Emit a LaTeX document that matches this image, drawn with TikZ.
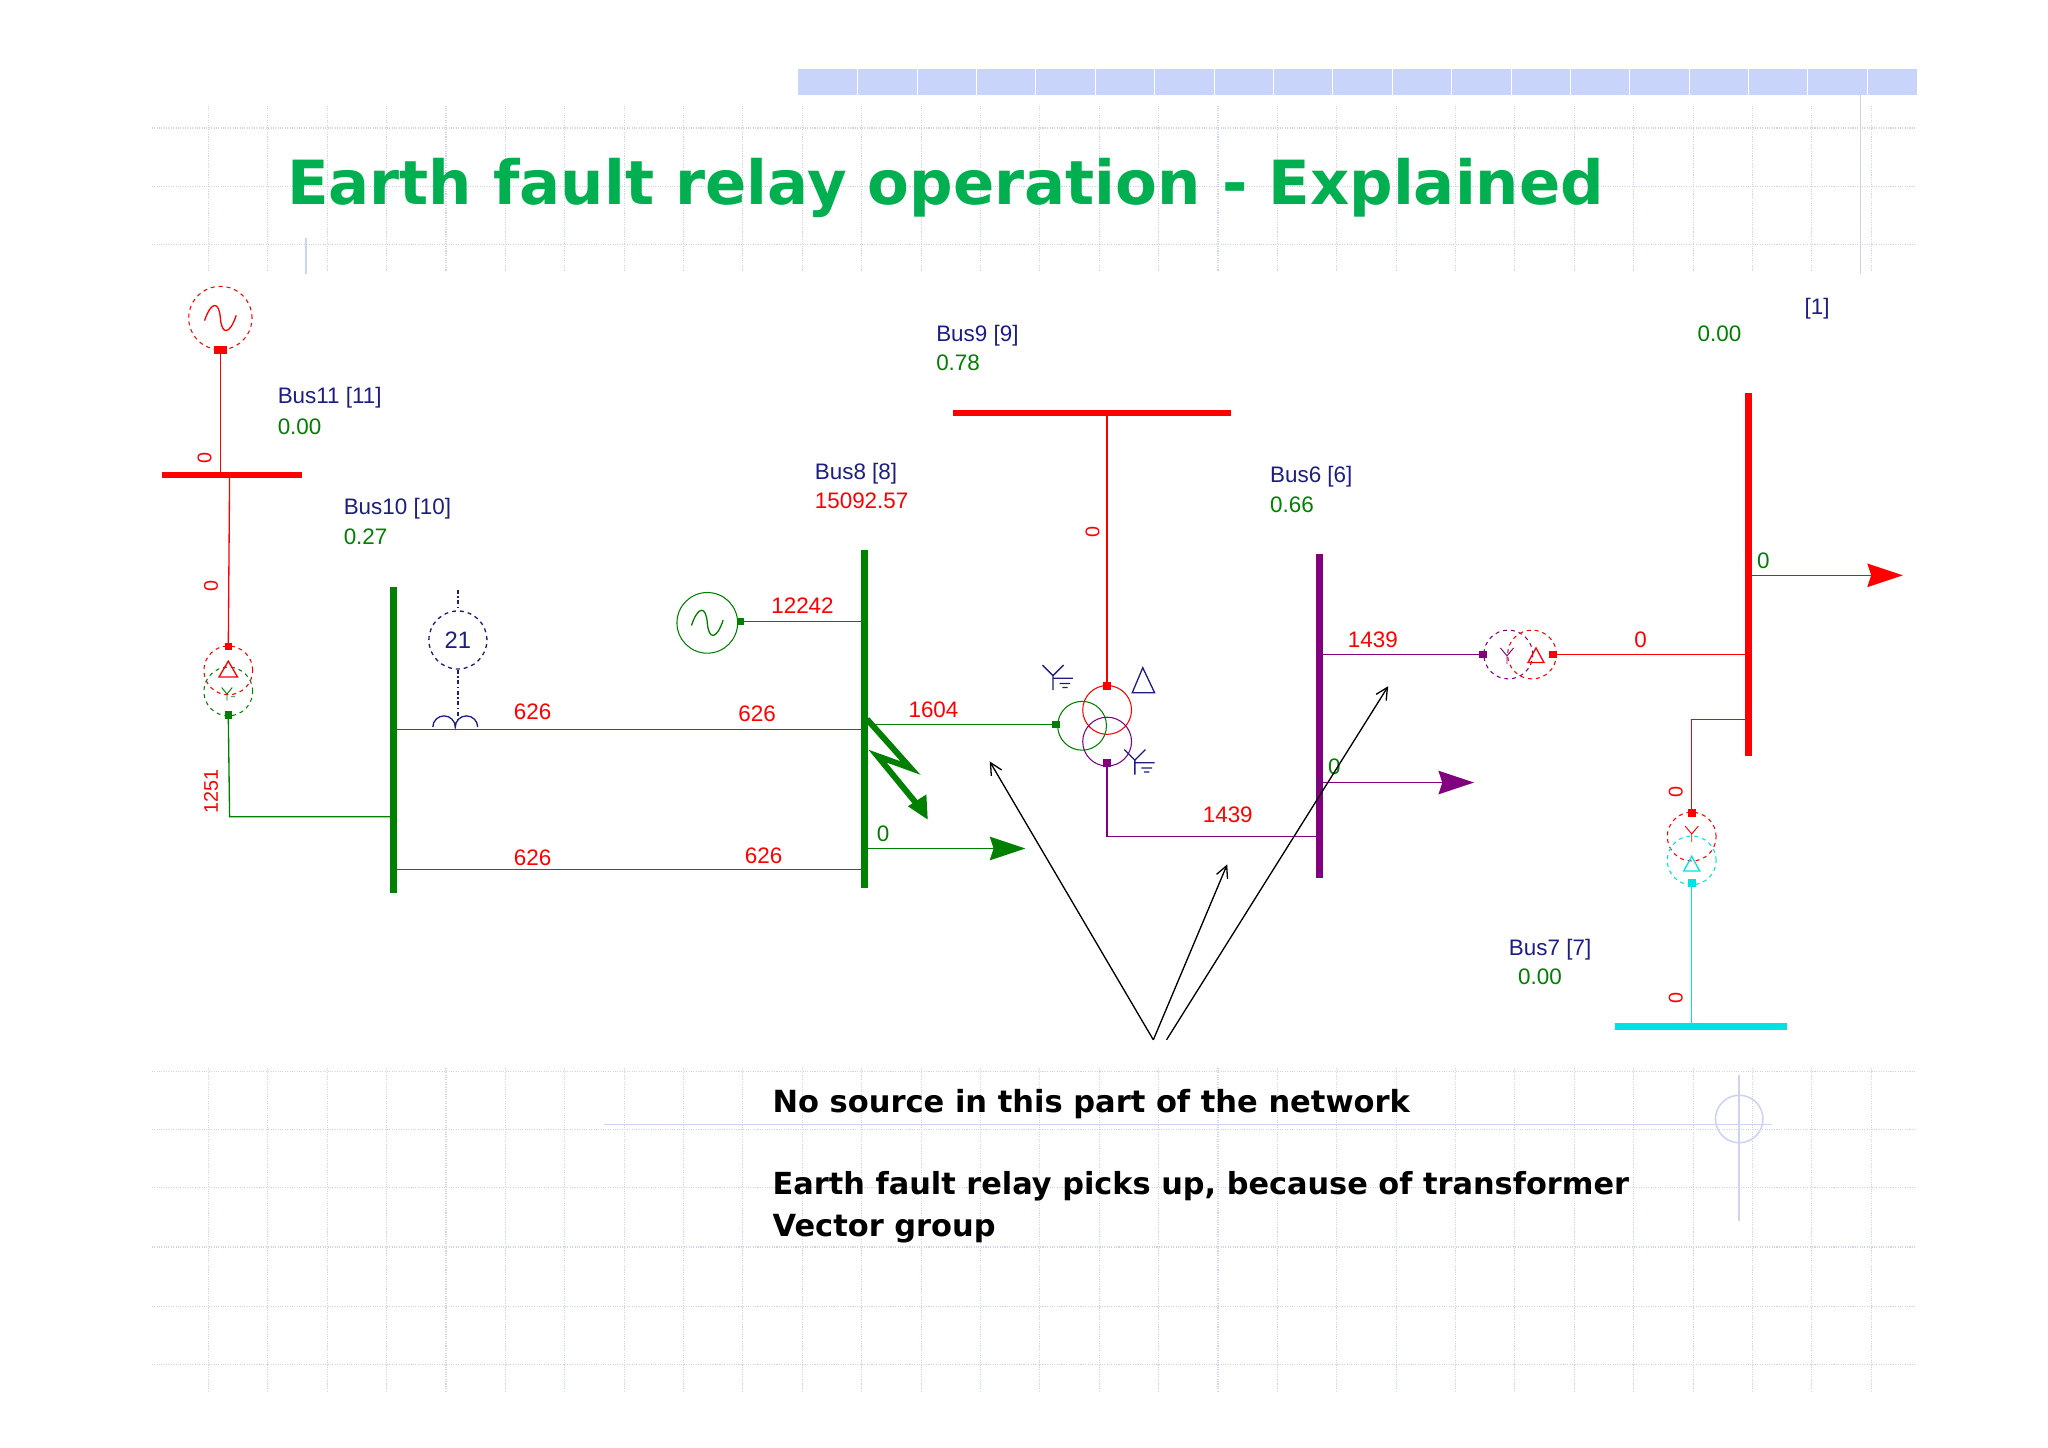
\documentclass[tikz,border=0pt]{standalone}
\usepackage{fontspec}
\setmainfont{Liberation Sans}
\newfontfamily\boldf{DejaVu Sans}
\usetikzlibrary{arrows.meta}
\definecolor{tgreen}{RGB}{0,176,80}
\definecolor{lgreen}{RGB}{0,128,0}
\definecolor{navy}{RGB}{30,30,130}
\definecolor{pur}{RGB}{128,0,128}
\definecolor{cy}{RGB}{0,225,230}
\definecolor{gridc}{RGB}{205,212,240}
\definecolor{band}{RGB}{200,212,250}
\tikzset{lbl/.style={font=\fontsize{17}{17}\selectfont,anchor=base west,inner sep=0},
 val/.style={lbl,red},
 rot/.style={font=\fontsize{15}{15}\selectfont,red,rotate=90,inner sep=0},
 bus/.style={line width=5pt},
 tbox/.style={draw,minimum size=5pt,inner sep=0,fill=white,line width=0.7pt},
 wind/.style={draw,circle,minimum size=37pt,inner sep=0,line width=0.8pt},
 blk/.style={-{Straight Barb[length=9pt,width=9pt]},line width=1pt}}
\begin{document}
\begin{tikzpicture}[x=1pt,y=-1pt,line width=1pt]
\useasboundingbox (0,0) rectangle (1552,1097);
\fill[white] (0,0) rectangle (1552,1097);
% grid
\foreach \x in {158,203,...,1452} \draw[gridc,densely dotted,line width=0.8pt] (\x,80) -- (\x,1055);
\foreach \y in {97,141,185,812,856,900,945,990,1034} \draw[gridc,densely dotted,line width=0.8pt] (115,\y) -- (1452,\y);
\fill[band] (605,52) rectangle (1453,72);
\foreach \x in {650,695,...,1452} \draw[white,line width=0.6pt] (\x,52) -- (\x,72);
\fill[white] (115,205) rectangle (1452,808);
\draw[gridc,line width=1.2pt] (1410,60) -- (1410,208);
\draw[gridc,line width=1.2pt] (232,180) -- (232,208);
\draw[gridc,line width=1.2pt] (458,852) -- (1343,852);
\draw[gridc,line width=1.2pt] (1318,815) -- (1318,925);
\draw[gridc,line width=1.2pt] (1318,848) circle (18);
% title
\node[anchor=base west,inner sep=0,text=tgreen] (title) at (217,155) {\resizebox{998pt}{!}{\boldf\bfseries Earth fault relay operation - Explained}};
% bottom text
\node[anchor=base west,inner sep=0] (t1) at (585,843) {\resizebox{483pt}{!}{\boldf\bfseries No source in this part of the network}};
\node[anchor=base west,inner sep=0] (t2) at (585,905) {\resizebox{649pt}{!}{\boldf\bfseries Earth fault relay picks up, because of transformer}};
\node[anchor=base west,inner sep=0] (t3) at (585,937) {\resizebox{169pt}{!}{\boldf\bfseries Vector group}};
% ---- Gen1, Bus11, T left
\node[wind,red,dashed,minimum size=48pt] (g1) at (167,241) {};
\draw[red] (155,243) .. controls (160,228) and (166,228) .. (167,241) .. controls (168,254) and (174,254) .. (179,239);
\node[tbox,red,minimum width=9pt,minimum height=5pt] (g1b) at (167,265) {};
\draw[bus,red] (123,360) -- (229,360);
\draw[red] (g1b) -- (167,360);
\node[rot] at (155,347) {0};
\node[wind,red,dashed] (tr1) at (173,508) {};
\node[wind,lgreen,dashed] (tg1) at (173,524) {};
\draw[red] (166,513) -- (173,501) -- (180,513) -- cycle;
\draw[lgreen,line width=0.7pt] (168,521) -- (172,526) -- (176,521) (172,526) -- (172,531) (175,528)--(178,528);
\node[tbox,red] (tb1) at (173,490) {};
\node[tbox,lgreen] (tb2) at (173,542) {};
\draw[red] (174,360) -- (tb1);
\node[rot] at (160,444) {0};
\node[lbl,navy] at (210,306) {Bus11 [11]};
\node[lbl,lgreen] at (210,329) {0.00};
% Bus10
\draw[bus,lgreen] (298,445) -- (298,677);
\draw[lgreen] (tb2) -- (174,619) -- (298,619);
\node[rot] at (160,600) {1251};
\node[lbl,navy] at (260,390) {Bus10 [10]};
\node[lbl,lgreen] at (260,413) {0.27};
% relay 21
\node[draw,circle,navy,dashed,minimum size=44pt,inner sep=0,font=\fontsize{18}{18}\selectfont] (r21) at (347,485) {21};
\draw[navy,dash dot] (347,447) -- (r21.north);
\draw[navy,dash dot] (r21.south) -- (347,545);
\draw[navy] (328,551) arc (180:360:8.5) arc (180:360:8.5);
% lines bus10-bus8
\draw[lgreen] (298,553) -- (655,553);
\draw[lgreen] (298,659) -- (655,659);
\node[val] at (389,545) {626};
\node[val] at (559,547) {626};
\node[val] at (389,656) {626};
\node[val] at (564,654) {626};
% Bus8
\draw[bus,lgreen] (655,417) -- (655,673);
\node[lbl,navy] at (617,363) {Bus8 [8]};
\node[val] at (617,385) {15092.57};
\node[wind,lgreen,minimum size=46pt] (g2) at (536,472) {};
\draw[lgreen] (524,474) .. controls (529,459) and (535,459) .. (536,472) .. controls (537,485) and (543,485) .. (548,470);
\node[tbox,lgreen] (g2b) at (561,471) {};
\draw[lgreen] (g2b) -- (655,471);
\node[val] at (584,465) {12242};
% fault
\draw[lgreen,line width=4.5pt,line join=miter] (657,545) -- (690,582) -- (665,573) -- (697,612);
\fill[lgreen] (703,621) -- (688,611) -- (702,602) -- cycle;
\node[lbl,lgreen] at (664,638) {0};
\draw[lgreen] (655,643) -- (760,643);
\fill[lgreen] (777,643) -- (750,634) -- (753,643) -- (750,652) -- cycle;
% line to 3w transformer
\node[tbox,lgreen] (tb3) at (800,549) {};
\draw[lgreen] (655,549) -- (tb3);
\node[val] at (688,544) {1604};
\node[wind,red] (w3r) at (839,538) {};
\node[wind,lgreen] (w3g) at (820,550) {};
\node[wind,pur] (w3p) at (839,562) {};
\node[tbox,red] (tb4) at (839,520) {};
\node[tbox,pur] (tb5) at (839,578) {};
\draw[red] (tb4) -- (839,313);
\node[rot] at (828,403) {0};
\draw[pur] (tb5) -- (839,634) -- (1000,634);
\node[val] at (911,623) {1439};
\draw[navy] (866,506) -- (858,525) -- (875,525) -- cycle;
\draw[navy] (790,504) -- (798,512) -- (806,504) (798,512) -- (798,523) (798,514) -- (813,514) (803,518)--(811,518) (805,521)--(809,521);
\draw[navy] (852,568) -- (860,576) -- (868,568) (860,576) -- (860,587) (860,578) -- (875,578) (865,582)--(873,582) (867,585)--(871,585);
% Bus9
\draw[bus,red] (722,313) -- (933,313);
\node[lbl,navy] at (709,259) {Bus9 [9]};
\node[lbl,lgreen] at (709,281) {0.78};
% Bus6
\draw[bus,pur] (1000,420) -- (1000,665);
\node[lbl,navy] at (962,366) {Bus6 [6]};
\node[lbl,lgreen] at (962,388) {0.66};
\node[tbox,pur] (tb6) at (1124,496) {};
\node[wind,pur,dashed] (w2p) at (1143,496) {};
\node[wind,red,dashed] (w2r) at (1161,496) {};
\node[tbox,red] (tb7) at (1177,496) {};
\draw[pur] (1000,496) -- (tb6);
\draw[red] (tb7) -- (1325,496);
\draw[pur,line width=0.7pt] (1137,491) -- (1142,497) -- (1147,491) (1142,497) -- (1142,503);
\draw[red] (1158,502) -- (1164,491) -- (1170,502) -- cycle;
\node[val] at (1021,491) {1439};
\node[val] at (1238,491) {0};
\node[lbl,lgreen] at (1006,587) {0};
\draw[pur] (1000,593) -- (1095,593);
\fill[pur] (1117,593) -- (1090,584) -- (1093,593) -- (1090,602) -- cycle;
% Bus1
\draw[bus,red] (1325,298) -- (1325,573);
\node[lbl,navy] at (1367,238) {[1]};
\node[lbl,lgreen] at (1286,259) {0.00};
\node[lbl,lgreen] at (1331,431) {0};
\draw[red] (1325,436) -- (1420,436);
\fill[red] (1442,436) -- (1415,427) -- (1418,436) -- (1415,445) -- cycle;
% Bus7 branch
\node[tbox,red] (tb8) at (1282,616) {};
\node[wind,red,dashed] (w4r) at (1282,634) {};
\node[wind,cy,dashed] (w4c) at (1282,652) {};
\node[tbox,cy] (tb9) at (1282,669) {};
\draw[red] (1325,545) -- (1282,545) -- (tb8);
\node[rot] at (1270,600) {0};
\draw[red,line width=0.7pt] (1277,626) -- (1282,632) -- (1287,626) (1282,632) -- (1282,638);
\draw[cy] (1276,660) -- (1282,649) -- (1288,660) -- cycle;
\draw[bus,cy] (1224,778) -- (1354,778);
\draw[cy] (tb9) -- (1282,778);
\node[rot] at (1270,756) {0};
\node[lbl,navy] at (1143,724) {Bus7 [7]};
\node[lbl,lgreen] at (1150,746) {0.00};
% pointer arrows
\coordinate (p1) at (874,788);
\coordinate (p2) at (884,788);
\coordinate (a1) at (750,577);
\coordinate (a2) at (930,655);
\coordinate (a3) at (1052,520);
\draw[blk] (p1) -- (a1);
\draw[blk] (p1) -- (a2);
\draw[blk] (p2) -- (a3);
\end{tikzpicture}
\end{document}
